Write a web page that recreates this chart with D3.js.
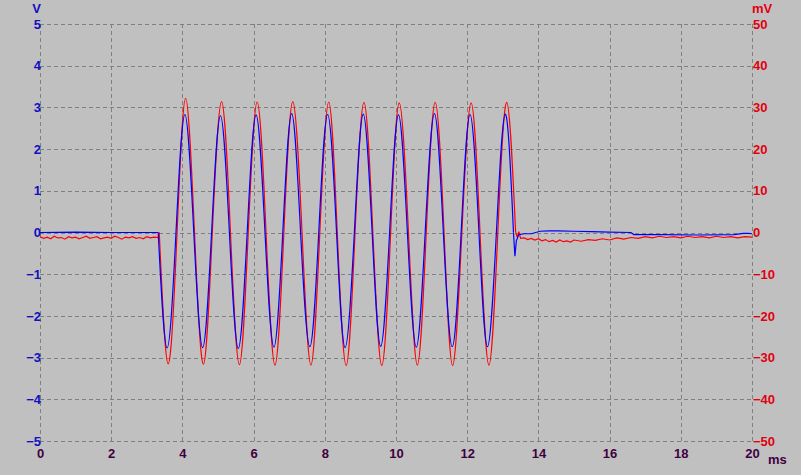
<!DOCTYPE html>
<html>
<head>
<meta charset="utf-8">
<script src="https://cdn.jsdelivr.net/npm/d3@7"></script>
<style>
  html, body { margin: 0; padding: 0; background: #c0c0c0; }
  svg { display: block; }
  text { font-family: "Liberation Sans", Arial, sans-serif; font-weight: bold; font-size: 13px; }
</style>
</head>
<body>
<div id="chart"></div>
<script>
// ---------- tick labels ----------
const xTicks = [0, 2, 4, 6, 8, 10, 12, 14, 16, 18, 20];          // ms
const vTicks = [-5, -4, -3, -2, -1, 0, 1, 2, 3, 4, 5];          // V (left)
const mvTicks = [-50, -40, -30, -20, -10, 0, 10, 20, 30, 40, 50]; // mV (right)

// ---------- blue trace (V) ----------
const bluePreT = [0, 1.0, 2.0, 3.31];
const bluePreV = [0.0, 0.01, 0.0, 0.0];
const blueZeroT = [3.32, 3.82, 4.32, 4.82, 5.32, 5.82, 6.32, 6.82, 7.32, 7.83, 8.33,
                   8.83, 9.33, 9.82, 10.32, 10.82, 11.33, 11.83, 12.33, 12.82, 13.30];
const bluePeakT = [4.07, 5.07, 6.07, 7.07, 8.08, 9.08, 10.07, 11.08, 12.08, 13.07];
const bluePeakV = [2.83, 2.80, 2.82, 2.85, 2.83, 2.84, 2.82, 2.85, 2.83, 2.84];
const blueTroughT = [3.57, 4.57, 5.57, 6.57, 7.58, 8.57, 9.57, 10.57, 11.58, 12.57];
const blueTroughV = [-2.77, -2.76, -2.78, -2.75, -2.74, -2.76, -2.73, -2.75, -2.74, -2.74];
const bluePostT = [13.34, 13.38, 13.45, 13.6, 13.8, 14.05, 14.3, 14.55, 15.0, 15.5, 16.0, 16.6, 16.68, 17.5, 18.5, 19.5, 19.75, 19.9, 20.0];
const bluePostV = [-0.57, -0.2, -0.05, -0.03, -0.03, 0.03, 0.04, 0.04, 0.03, 0.02, 0.01, 0.0, -0.05, -0.05, -0.06, -0.05, -0.02, -0.02, -0.03];

// ---------- red trace (mV) ----------
const redPreT = [0, 0.1, 0.2, 0.3, 0.4, 0.5, 0.6, 0.7, 0.8, 0.9, 1.0, 1.1, 1.2, 1.3, 1.4, 1.5, 1.6,
                 1.7, 1.8, 1.9, 2.0, 2.1, 2.2, 2.3, 2.4, 2.5, 2.6, 2.7, 2.8, 2.9, 3.0, 3.1, 3.2, 3.33];
const redPreV = [-1.0, -1.4, -1.1, -1.5, -0.9, -1.3, -1.2, -1.6, -1.0, -1.3, -1.1, -1.5, -1.2, -0.9, -1.4, -1.2,
                 -1.0, -1.5, -1.3, -1.1, -1.4, -0.9, -1.2, -1.6, -1.1, -1.3, -1.0, -1.4, -1.2, -1.5, -1.0, -1.3, -1.1, -1.2];
const redZeroT = [3.35, 3.85, 4.34, 4.84, 5.35, 5.85, 6.35, 6.85, 7.36, 7.86, 8.35,
                  8.85, 9.35, 9.85, 10.35, 10.85, 11.35, 11.85, 12.36, 12.86, 13.36];
const redPeakT = [4.09, 5.10, 6.10, 7.10, 8.11, 9.10, 10.09, 11.10, 12.11, 13.11];
const redPeakV = [32.2, 31.4, 31.3, 31.4, 31.3, 31.2, 31.1, 31.2, 31.1, 31.2];
const redTroughT = [3.60, 4.59, 5.60, 6.60, 7.61, 8.60, 9.60, 10.60, 11.59, 12.61];
const redTroughV = [-31.5, -31.6, -31.7, -31.8, -31.8, -31.9, -31.9, -31.8, -31.9, -31.8];
const redPostT = [13.41, 13.45, 13.5, 13.6, 13.7, 13.8, 13.9, 14.0, 14.1, 14.2, 14.3, 14.4, 14.5, 14.6, 14.7,
                  14.8, 14.9, 15.0, 15.2, 15.4, 15.6, 15.8, 16.0, 16.2, 16.4, 16.6, 16.8, 17.0, 17.2, 17.4,
                  17.6, 17.8, 18.0, 18.2, 18.4, 18.6, 18.8, 19.0, 19.2, 19.4, 19.6, 19.8, 20.0];
const redPostV = [-1.2, 0.2, -1.4, -1.3, -1.7, -1.4, -1.8, -1.5, -2.0, -1.7, -2.2, -1.9, -2.3, -1.8, -2.2,
                  -2.0, -2.3, -1.8, -2.1, -1.7, -1.9, -1.5, -1.8, -1.3, -1.6, -1.2, -1.4, -1.0, -1.3, -0.9,
                  -1.2, -1.0, -1.3, -0.9, -1.2, -1.0, -1.3, -0.9, -1.2, -1.0, -1.3, -1.0, -1.1];

// ---------- layout ----------
const W = 801, H = 475;
const L = 40, R = 752, T = 24, B = 441;

const svg = d3.select("#chart").append("svg").attr("width", W).attr("height", H);
svg.append("rect").attr("width", W).attr("height", H).attr("fill", "#c0c0c0");

const x = d3.scaleLinear().domain([0, 20]).range([L, R]);
const yV = d3.scaleLinear().domain([-5, 5]).range([B, T]);
const yMV = d3.scaleLinear().domain([-50, 50]).range([B, T]);

// grid
const grid = svg.append("g").attr("stroke", "#808080").attr("stroke-width", 1)
  .attr("stroke-dasharray", "4,3").attr("shape-rendering", "crispEdges");
grid.selectAll("line.v").data(xTicks).join("line").attr("class", "v")
  .attr("x1", d => Math.round(x(d)) + 0.5).attr("x2", d => Math.round(x(d)) + 0.5)
  .attr("y1", T).attr("y2", B);
grid.selectAll("line.h").data(vTicks).join("line").attr("class", "h")
  .attr("y1", d => Math.round(yV(d)) + 0.5).attr("y2", d => Math.round(yV(d)) + 0.5)
  .attr("x1", L).attr("x2", R);

// axes
const axL = svg.append("g").attr("transform", `translate(${L + 1},0)`)
  .call(d3.axisLeft(yV).tickValues(vTicks).tickSize(0).tickPadding(0).tickFormat(d3.format("d")));
axL.select(".domain").remove();
axL.selectAll("text").attr("fill", "#1010c0").style("font-size", "13px");

const axR = svg.append("g").attr("transform", `translate(${R},0)`)
  .call(d3.axisRight(yMV).tickValues(mvTicks).tickSize(0).tickPadding(1).tickFormat(d3.format("d")));
axR.select(".domain").remove();
axR.selectAll("text").attr("fill", "#e00010").style("font-size", "13px");

const axB = svg.append("g").attr("transform", `translate(0,${B})`)
  .call(d3.axisBottom(x).tickValues(xTicks).tickSize(0).tickPadding(8).tickFormat(d3.format("d")));
axB.select(".domain").remove();
axB.selectAll("text").attr("fill", "#400040").style("font-size", "13px");

svg.append("text").attr("x", 41).attr("y", 12.5).attr("text-anchor", "end").attr("fill", "#1010c0").text("V");
svg.append("text").attr("x", 752).attr("y", 13).attr("fill", "#e00010").text("mV");
svg.append("text").attr("x", 768).attr("y", 463.5).attr("fill", "#400040").text("ms");

// ---------- traces ----------
function zip(ts, vs) { return ts.map((t, i) => [t, vs[i]]); }
function burst(zT, pT, pV, tT, tV) {
  return zip(zT, zT.map(() => 0)).concat(zip(pT, pV), zip(tT, tV)).sort((a, b) => a[0] - b[0]);
}
function drawTrace(pre, mid, post, y, color) {
  const lin = d3.line().x(d => x(d[0])).y(d => y(d[1])).curve(d3.curveLinear);
  const nat = d3.line().x(d => x(d[0])).y(d => y(d[1])).curve(d3.curveNatural);
  const g = svg.append("g").attr("fill", "none").attr("stroke", color).attr("stroke-width", 1.2);
  g.append("path").attr("d", lin(pre.concat([mid[0]])));
  g.append("path").attr("d", nat(mid));
  g.append("path").attr("d", lin([mid[mid.length - 1]].concat(post)));
}

const redMid = burst(redZeroT, redPeakT, redPeakV, redTroughT, redTroughV);
drawTrace(zip(redPreT, redPreV), redMid, zip(redPostT, redPostV), yMV, "#ff0000");

const blueMid = burst(blueZeroT, bluePeakT, bluePeakV, blueTroughT, blueTroughV);
drawTrace(zip(bluePreT, bluePreV), blueMid, zip(bluePostT, bluePostV), yV, "#0000ff");
</script>
</body>
</html>
